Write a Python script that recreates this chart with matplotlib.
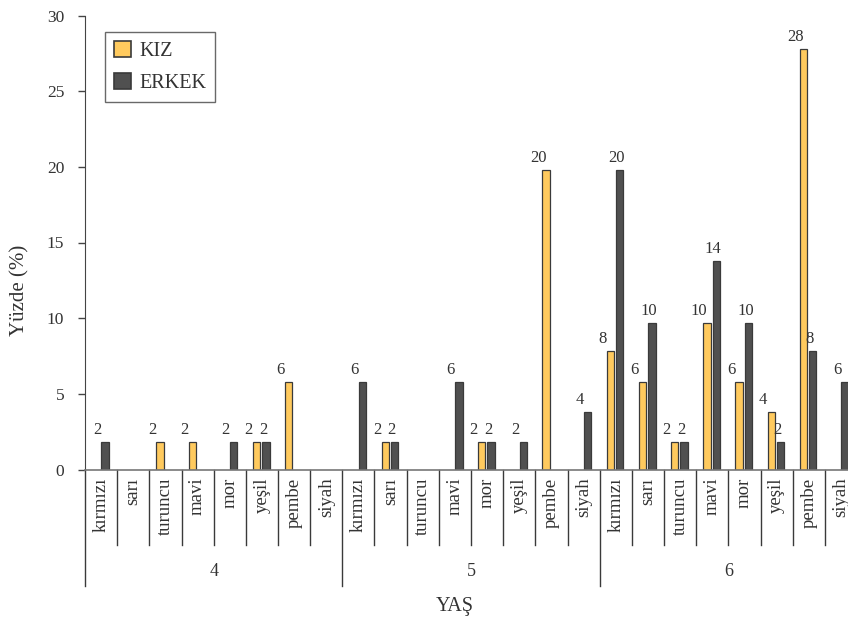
import numpy as np
import matplotlib.pyplot as plt
from matplotlib.lines import Line2D
from matplotlib.patches import Patch

plt.rcParams['font.family'] = ['Liberation Serif', 'DejaVu Serif']

# 1) Data (bar heights, labels show rounded values)
yaslar = ['4', '5', '6']
renkler = ['kırmızı', 'sarı', 'turuncu', 'mavi', 'mor', 'yeşil', 'pembe', 'siyah']

kiz_4 = [0, 0, 1.8, 1.8, 0, 1.8, 5.8, 0]
kiz_5 = [0, 1.8, 0, 0, 1.8, 0, 19.8, 0]
kiz_6 = [7.8, 5.8, 1.8, 9.7, 5.8, 3.8, 27.8, 0]

erkek_4 = [1.8, 0, 0, 0, 1.8, 1.8, 0, 0]
erkek_5 = [5.8, 1.8, 0, 5.8, 1.8, 1.8, 0, 3.8]
erkek_6 = [19.8, 9.7, 1.8, 13.8, 9.7, 1.8, 7.8, 5.8]

kiz = kiz_4 + kiz_5 + kiz_6
erkek = erkek_4 + erkek_5 + erkek_6
kategoriler = renkler * len(yaslar)

# 2) Style
c_kiz = '#FFCA5E'
c_erkek = '#505050'
c_edge = '#3a3a3a'
c_text = '#333333'
bw = 0.226

fig = plt.figure(figsize=(8.48, 6.23), dpi=100)
W, H = 848, 623
x0, x1 = 85, 857
y0, y1 = 469.5, 15.5
ax = fig.add_axes([x0 / W, 1 - y0 / H, (x1 - x0) / W, (y0 - y1) / H])

x = np.arange(len(kategoriler))
n = len(kategoriler)

# 3) Bars + value labels
for i in range(n):
    k, e = kiz[i], erkek[i]
    if k > 0:
        ax.bar(x[i] - 0.165, k, width=bw, color=c_kiz, edgecolor=c_edge, linewidth=0.9, zorder=2)
        ax.annotate(f"{k:.0f}", xy=(x[i] - 0.165, k), xytext=(-8, 8),
                    textcoords='offset pixels', ha='center', va='baseline',
                    fontsize=12, color=c_text)
    if e > 0:
        ax.bar(x[i] + 0.125, e, width=bw, color=c_erkek, edgecolor=c_edge, linewidth=0.9, zorder=2)
        dx = -3 if k > 0 else -8
        ax.annotate(f"{e:.0f}", xy=(x[i] + 0.125, e), xytext=(dx, 8),
                    textcoords='offset pixels', ha='center', va='baseline',
                    fontsize=12, color=c_text)

ax.set_xlim(-0.5, n - 0.5)
ax.set_ylim(0, 30)
ax.set_yticks(range(0, 31, 5))
ax.tick_params(axis='y', direction='out', length=5, width=1, colors='#444444',
               labelsize=12.5, labelcolor=c_text, pad=10)
ax.set_xticks([])
for s in ['top', 'right']:
    ax.spines[s].set_visible(False)
ax.spines['left'].set_color('#444444')
ax.spines['bottom'].set_color('#777777')
ax.spines['bottom'].set_linewidth(1.2)

# 4) Hierarchical x axis
trans = ax.get_xaxis_transform()
px = 1 / (y0 - y1)  # one pixel in axes fraction (vertical)
cat_bottom = -(545 - y0) * px
grp_bottom = -(586 - y0) * px

for i in range(n):
    ax.annotate(kategoriler[i], xy=(x[i], 0), xycoords=trans, xytext=(0, -8),
                textcoords='offset pixels', rotation=90, ha='center', va='top',
                fontsize=13.5, color=c_text)

for b in np.arange(-0.5, n, 1.0):
    grp_edge = (b + 0.5) % len(renkler) == 0
    yb = grp_bottom if grp_edge else cat_bottom
    ax.add_line(Line2D([b, b], [0, yb], transform=trans, color='#3a3a3a',
                       linewidth=1.0, clip_on=False))

for g, yas in enumerate(yaslar):
    xc = g * len(renkler) + (len(renkler) - 1) / 2
    ax.text(xc, -(572 - y0) * px, yas, transform=trans, ha='center', va='center',
            fontsize=13, color=c_text)

fig.text(455 / W, 1 - 607 / H, 'YAŞ', ha='center', va='center',
         fontsize=14.5, color=c_text)
fig.text(20 / W, 1 - 290 / H, 'Yüzde (%)', rotation=90, ha='center', va='center',
         fontsize=15, color=c_text)

# 5) Legend
handles = [Patch(facecolor=c_kiz, edgecolor=c_edge, linewidth=1.2, label='KIZ'),
           Patch(facecolor=c_erkek, edgecolor=c_edge, linewidth=1.2, label='ERKEK')]
leg = fig.legend(handles=handles, loc='upper left', bbox_to_anchor=(105 / W, 1 - 32 / H),
                 frameon=True, fancybox=False, edgecolor='#444444', fontsize=14.5,
                 handlelength=0.85, handleheight=0.85, handletextpad=0.4,
                 labelspacing=0.6, borderpad=0.45, borderaxespad=0)
leg.get_frame().set_linewidth(1.0)
for t in leg.get_texts():
    t.set_color(c_text)

fig.savefig('out.png', dpi=100)
